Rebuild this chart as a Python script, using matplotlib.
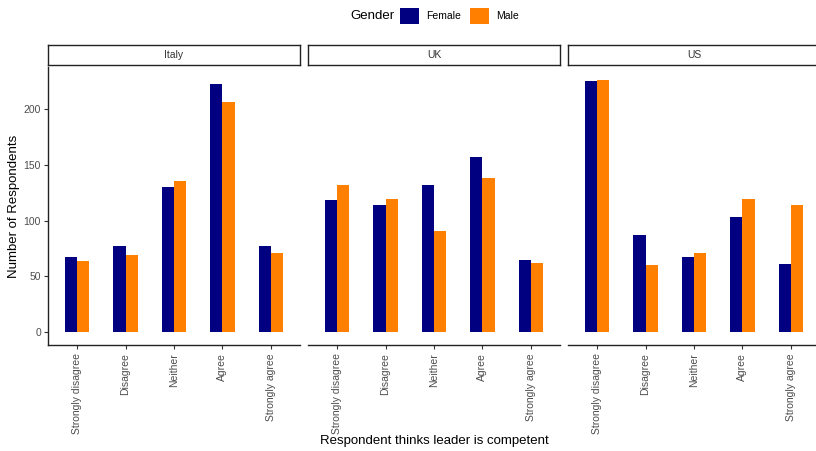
import matplotlib
matplotlib.use("Agg")
import matplotlib.pyplot as plt
import numpy as np
from matplotlib.patches import Patch

plt.rcParams['font.family'] = ['Liberation Sans', 'DejaVu Sans']

countries = ["Italy", "UK", "US"]
categories = ["Strongly disagree", "Disagree", "Neither", "Agree", "Strongly agree"]
female = {
    "Italy": [67, 77, 130, 222, 77],
    "UK":    [118, 114, 132, 157, 65],
    "US":    [225, 87, 67, 103, 61],
}
male = {
    "Italy": [64, 69, 135, 206, 71],
    "UK":    [132, 119, 91, 138, 62],
    "US":    [226, 60, 71, 119, 114],
}
yticks = [0, 50, 100, 150, 200]

FEMALE_C = "#000080"
MALE_C = "#FF7F00"
TXT_C = "#4D4D4D"

W, H = 816, 451
fig = plt.figure(figsize=(W / 100, H / 100), dpi=100)

def fx(px):
    return px / W

def fy(py):
    return 1 - py / H

panel_w = 252
gap = 8
left0 = 48
top_px, bot_px = 67, 345
strip_top, strip_bot = 45, 65

x = np.arange(len(categories))
bw = 0.25
ymin, ymax = -11.3, 237.3

for i, c in enumerate(countries):
    lpx = left0 + i * (panel_w + gap)
    ax = fig.add_axes([fx(lpx), fy(bot_px), panel_w / W, (bot_px - top_px) / H])
    ax.bar(x - bw / 2, female[c], width=bw, color=FEMALE_C, linewidth=0)
    ax.bar(x + bw / 2, male[c], width=bw, color=MALE_C, linewidth=0)
    ax.set_xlim(-0.6, len(categories) - 0.4)
    ax.set_ylim(ymin, ymax)
    ax.set_xticks(x)
    ax.set_xticklabels(categories, rotation=90, fontsize=7.5, color=TXT_C)
    for s in ["top", "right"]:
        ax.spines[s].set_visible(False)
    ax.spines["bottom"].set_linewidth(1.0)
    ax.spines["bottom"].set_color("#222222")
    ax.tick_params(axis="x", length=3, width=0.8, color="#333333", pad=3)
    if i == 0:
        ax.set_yticks(yticks)
        ax.set_yticklabels([str(t) for t in yticks], fontsize=7.5, color=TXT_C)
        ax.tick_params(axis="y", length=3, width=0.8, color="#333333", pad=2)
        ax.spines["left"].set_linewidth(1.0)
        ax.spines["left"].set_color("#222222")
    else:
        ax.spines["left"].set_visible(False)
        ax.set_yticks([])
    # strip
    sax = fig.add_axes([fx(lpx), fy(strip_bot), panel_w / W, (strip_bot - strip_top) / H])
    sax.set_xticks([])
    sax.set_yticks([])
    for s in sax.spines.values():
        s.set_linewidth(1.0)
        s.set_color("#222222")
    sax.text(0.5, 0.5, c, ha="center", va="center", fontsize=7.5, color="#333333",
             transform=sax.transAxes)

fig.text(fx(14), fy((top_px + bot_px) / 2), "Number of Respondents", rotation=90,
         ha="center", va="center", fontsize=9.5, color="black")
fig.text(fx(434), fy(441), "Respondent thinks leader is competent", ha="center", va="center",
         fontsize=9.5, color="black")

fig.text(fx(350), fy(16), "Gender", ha="left", va="center", fontsize=9.5, color="black")
handles = [Patch(facecolor=FEMALE_C, edgecolor="none"), Patch(facecolor=MALE_C, edgecolor="none")]
fig.legend(handles, ["Female", "Male"], ncol=2, loc="center left",
           bbox_to_anchor=(fx(400), fy(16)), frameon=False, fontsize=7.5,
           handlelength=1.85, handleheight=1.85, handletextpad=0.7, columnspacing=0.8,
           borderpad=0, borderaxespad=0)

fig.savefig("out.png", dpi=100)
